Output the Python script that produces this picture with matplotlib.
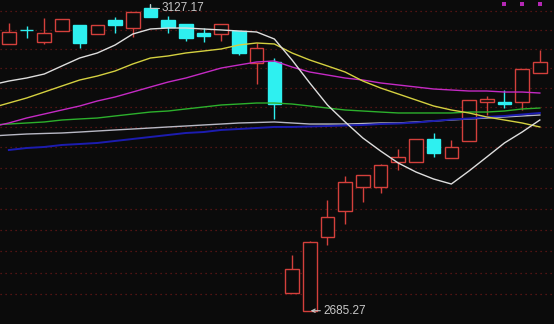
import numpy as np
import matplotlib
matplotlib.use('Agg')
import matplotlib.pyplot as plt
import matplotlib.transforms as mtransforms

# K线数据 (开, 高, 低, 收)
opens = [3065.7, 3087.8, 3068.7, 3085.5, 3094.7, 3080.9, 3102.4, 3090.1, 3121.0, 3102.4,
         3096.3, 3082.4, 3080.9, 3085.5, 3036.9, 3038.4, 2709.0, 2685.27, 2785.4, 2821.6,
         2855.5, 2855.5, 2891.1, 2891.1, 2924.4, 2896.9, 2921.5, 2978.6, 2978.6, 2978.6,
         3021.8]
highs = [3097.8, 3093.2, 3105.5, 3104.0, 3094.7, 3094.7, 3107.0, 3114.8, 3127.17, 3108.6,
         3096.3, 3090.1, 3096.3, 3085.5, 3067.2, 3044.4, 2760.6, 2779.9, 2837.1, 2871.1,
         2872.5, 2888.3, 2909.9, 2924.4, 2933.1, 2922.9, 2981.6, 2987.5, 2996.4, 3027.8,
         3056.5]
lows = [3065.7, 3074.8, 3065.7, 3085.5, 3059.6, 3080.9, 3082.4, 3076.3, 3107.0, 3082.4,
        3070.2, 3068.7, 3070.2, 3049.0, 3005.4, 2953.6, 2709.0, 2685.27, 2774.4, 2803.5,
        2834.3, 2847.0, 2879.7, 2891.1, 2898.3, 2896.9, 2921.5, 2959.4, 2969.7, 2966.8,
        3021.8]
closes = [3084.0, 3086.3, 3082.4, 3104.0, 3067.2, 3094.7, 3094.7, 3114.8, 3107.0, 3091.6,
          3074.8, 3077.9, 3096.3, 3052.0, 3059.6, 2975.6, 2741.5, 2778.5, 2813.2, 2862.6,
          2872.5, 2886.8, 2898.3, 2924.4, 2904.1, 2912.8, 2981.6, 2983.0, 2975.6, 3027.8,
          3038.4]

# 均线 (从图中读取, 第一个值对应前一根K线)
ma5 = [3003.9, 3009.8, 3014.3, 3020.3, 3032.4, 3044.4, 3052.0, 3064.1, 3080.9, 3088.6,
       3090.1, 3090.1, 3088.6, 3087.1, 3085.5, 3084.0, 3073.3, 3041.4, 3006.9, 2974.2,
       2949.2, 2925.8, 2907.0, 2889.7, 2876.8, 2866.8, 2859.7, 2878.3, 2898.3, 2918.6,
       2934.5, 2952.1]
ma10 = [2969.7, 2977.1, 2984.5, 2993.4, 3002.4, 3011.3, 3017.3, 3024.8, 3035.4, 3044.4,
        3047.5, 3052.0, 3055.0, 3058.1, 3064.2, 3067.2, 3065.7, 3052.0, 3041.4, 3032.4,
        3023.3, 3009.8, 2999.4, 2990.5, 2981.6, 2972.7, 2966.8, 2962.4, 2956.5, 2952.1,
        2947.7, 2941.9]
ma20 = [2941.9, 2947.7, 2955.0, 2960.9, 2966.8, 2972.7, 2980.1, 2986.0, 2993.4, 3000.9,
        3008.3, 3014.3, 3021.8, 3029.3, 3033.9, 3038.4, 3039.9, 3030.8, 3023.3, 3018.8,
        3014.3, 3011.3, 3006.9, 3003.9, 3000.9, 2997.9, 2996.4, 2994.9, 2994.9, 2993.4,
        2993.4, 2991.9]
ma30 = [2944.8, 2946.2, 2947.7, 2949.2, 2952.1, 2953.6, 2955.0, 2958.0, 2960.9, 2963.8,
        2965.3, 2968.3, 2971.2, 2974.2, 2975.6, 2977.1, 2977.1, 2975.6, 2972.7, 2969.7,
        2966.8, 2965.3, 2963.8, 2962.4, 2962.4, 2962.4, 2962.4, 2963.8, 2963.8, 2965.3,
        2968.3, 2969.7]
ma60 = [2928.7, 2930.2, 2931.6, 2932.4, 2933.1, 2934.5, 2936.0, 2937.5, 2938.9, 2940.4,
        2941.9, 2943.3, 2944.8, 2946.2, 2947.7, 2948.4, 2949.2, 2947.7, 2946.2, 2946.2,
        2946.2, 2946.9, 2947.7, 2947.7, 2949.2, 2950.6, 2952.1, 2953.6, 2955.0, 2956.5,
        2958.0, 2959.4]
# 这条从第一根K线开始
ma120 = [2908.4, 2911.3, 2912.8, 2915.7, 2917.1, 2918.6, 2921.5, 2924.4, 2927.3, 2930.2,
         2933.1, 2934.5, 2937.5, 2938.9, 2940.4, 2941.9, 2941.9, 2942.6, 2943.3, 2944.1,
         2944.8, 2946.2, 2946.9, 2948.4, 2950.6, 2952.8, 2954.3, 2956.5, 2958.0, 2960.2,
         2962.4]

signal_idx = [28, 29, 30]  # 顶部小紫点

BG = '#0b0b0b'
RED = '#d4403c'
CYAN = '#2ef0f0'

fig = plt.figure(figsize=(5.54, 3.24), dpi=100, facecolor=BG)
ax = fig.add_axes([0, 0, 1, 1], facecolor=BG)
ax.set_yscale('log')
ax.set_xlim(-0.5, 30.8)
ax.set_ylim(2667.6, 3133.4)
ax.axis('off')

# 红色虚线网格
for lvl in np.linspace(2707.4, 3116.8, 15):
    ax.axhline(lvl, color='#6a1818', lw=0.9, ls=(0, (1, 3)), zorder=1)

x = np.arange(len(opens))
o = np.array(opens); h = np.array(highs); l = np.array(lows); c = np.array(closes)
up = c >= o
body_lo = np.minimum(o, c)
body_hi = np.maximum(o, c)
hgt = np.maximum(body_hi - body_lo, 0.6)

# 上影线/下影线
ax.vlines(x[up], body_hi[up], h[up], color=RED, lw=1, zorder=2)
ax.vlines(x[up], l[up], body_lo[up], color=RED, lw=1, zorder=2)
ax.vlines(x[~up], l[~up], h[~up], color=CYAN, lw=1, zorder=2)

ax.bar(x[up], hgt[up], bottom=body_lo[up], width=0.77, facecolor=BG,
       edgecolor=RED, linewidth=1, zorder=2)
ax.bar(x[~up], hgt[~up], bottom=body_lo[~up], width=0.77, facecolor=CYAN,
       edgecolor=CYAN, linewidth=1, zorder=2)

ma_x = np.arange(-1, len(opens))
ax.plot(ma_x, ma60, color='#b8b8c4', lw=1.0, zorder=3)
ax.plot(x, ma120, color='#1c1cb0', lw=1.4, zorder=3)
ax.plot(ma_x, ma30, color='#2cb02c', lw=1.0, zorder=3)
ax.plot(ma_x, ma20, color='#c42ac4', lw=1.0, zorder=3)
ax.plot(ma_x, ma10, color='#d4d040', lw=1.0, zorder=3)
ax.plot(ma_x, ma5, color='#dedede', lw=1.0, zorder=4)

# 最高/最低标注
hi_i = int(np.argmax(h))
lo_i = int(np.argmin(l))
ax.annotate(f'{h[hi_i]:.2f}', xy=(hi_i, h[hi_i]), xytext=(8, -3), textcoords='offset points',
            color='#c8c8c8', fontsize=8.5, family='Liberation Sans', va='center', ha='left',
            arrowprops=dict(arrowstyle='-', color='#c8c8c8', lw=0.8,
                            connectionstyle='angle,angleA=0,angleB=90,rad=0',
                            shrinkA=0, shrinkB=0), zorder=5)
ax.annotate(f'{l[lo_i]:.2f}', xy=(lo_i + 0.05, l[lo_i]), xytext=(9, 0), textcoords='offset points',
            color='#c8c8c8', fontsize=8.5, family='Liberation Sans', va='center', ha='left',
            arrowprops=dict(arrowstyle='->', color='#c8c8c8', lw=0.8,
                            shrinkA=0, shrinkB=0, mutation_scale=6), zorder=5)

trans = mtransforms.blended_transform_factory(ax.transData, ax.transAxes)
ax.scatter(signal_idx, [0.987] * len(signal_idx), transform=trans, marker='s', s=5,
           color='#b428b4', linewidths=0, zorder=5)

fig.savefig('out.png', dpi=100, facecolor=BG)
